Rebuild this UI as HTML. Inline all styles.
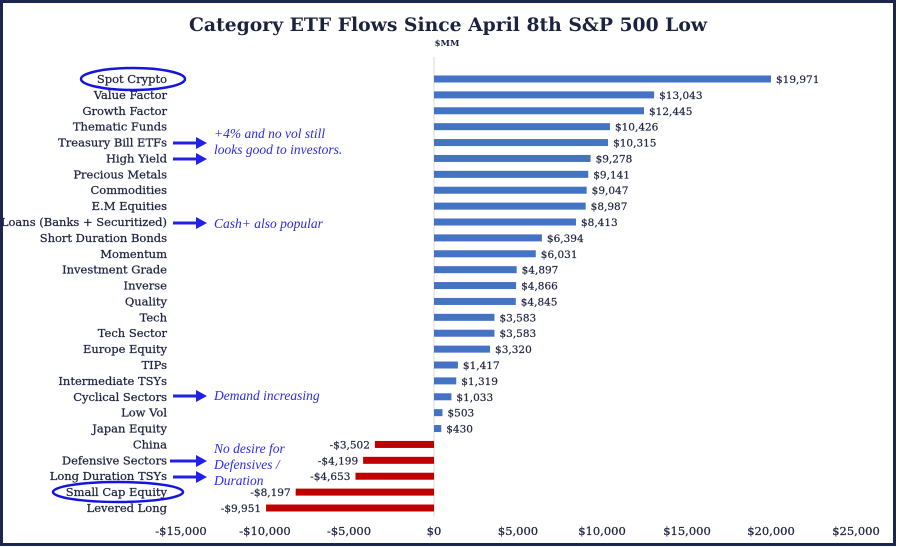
<!DOCTYPE html>
<html><head><meta charset="utf-8"><style>
body{margin:0;background:#fff}
svg{display:block}
text{font-family:"DejaVu Serif","Liberation Serif",serif;fill:#1c2340}
.l{font-size:11.5px;text-anchor:end;stroke:#1c2340;stroke-width:0.25}
.v{font-size:10.5px;stroke:#1c2340;stroke-width:0.2}
.a{font-family:"Liberation Serif",serif;font-style:italic;font-size:13.5px;fill:#2a2af0}
.t{font-size:11.5px;text-anchor:middle;stroke:#1c2340;stroke-width:0.25}
</style></head><body>
<svg width="900" height="548" viewBox="0 0 900 548">
<rect x="1.5" y="1.5" width="893" height="543" fill="#fff" stroke="#1a2550" stroke-width="3"/>
<text x="448" y="31" text-anchor="middle" textLength="518" lengthAdjust="spacingAndGlyphs" style="font-size:19px;font-weight:bold;font-family:'DejaVu Serif',serif">Category ETF Flows Since April 8th S&amp;P 500 Low</text>
<text x="447" y="46" text-anchor="middle" style="font-size:8.5px;font-weight:bold">$MM</text>
<line x1="434" y1="57" x2="434" y2="516" stroke="#d8d8d8" stroke-width="1"/>
<g id="bars"></g>
<g class="t">
<text x="181" y="535">-$15,000</text><text x="265" y="535">-$10,000</text><text x="349" y="535">-$5,000</text><text x="434" y="535">$0</text><text x="518" y="535">$5,000</text><text x="602" y="535">$10,000</text><text x="687" y="535">$15,000</text><text x="771" y="535">$20,000</text><text x="856" y="535">$25,000</text>
</g>
<ellipse cx="133" cy="79" rx="52" ry="11" fill="none" stroke="#1515e0" stroke-width="2.5"/>
<ellipse cx="118" cy="492" rx="65" ry="10" fill="none" stroke="#1515e0" stroke-width="2.5"/>
<g fill="#2020e8" stroke="#2020e8">
<line x1="173" y1="143" x2="198" y2="143" stroke-width="3"/><polygon points="196,137 207,143 196,149" stroke="none"/>
<line x1="173" y1="159" x2="198" y2="159" stroke-width="3"/><polygon points="196,153 207,159 196,165" stroke="none"/>
<line x1="173" y1="223" x2="198" y2="223" stroke-width="3"/><polygon points="196,217 207,223 196,229" stroke="none"/>
<line x1="173" y1="396" x2="198" y2="396" stroke-width="3"/><polygon points="196,390 207,396 196,402" stroke="none"/>
<line x1="170" y1="461" x2="198" y2="461" stroke-width="3"/><polygon points="196,455 207,461 196,467" stroke="none"/>
<line x1="173" y1="477" x2="198" y2="477" stroke-width="3"/><polygon points="196,471 207,477 196,483" stroke="none"/>
</g>
<text class="a" x="214" y="138">+4% and no vol still</text>
<text class="a" x="214" y="154">looks good to investors.</text>
<text class="a" x="214" y="228">Cash+ also popular</text>
<text class="a" x="214" y="400">Demand increasing</text>
<text class="a" x="214" y="453">No desire for</text>
<text class="a" x="214" y="469">Defensives /</text>
<text class="a" x="214" y="485">Duration</text>
</svg>
<script>
var d=[["Spot Crypto",19971],["Value Factor",13043],["Growth Factor",12445],["Thematic Funds",10426],["Treasury Bill ETFs",10315],["High Yield",9278],["Precious Metals",9141],["Commodities",9047],["E.M Equities",8987],["Loans (Banks + Securitized)",8413],["Short Duration Bonds",6394],["Momentum",6031],["Investment Grade",4897],["Inverse",4866],["Quality",4845],["Tech",3583],["Tech Sector",3583],["Europe Equity",3320],["TIPs",1417],["Intermediate TSYs",1319],["Cyclical Sectors",1033],["Low Vol",503],["Japan Equity",430],["China",-3502],["Defensive Sectors",-4199],["Long Duration TSYs",-4653],["Small Cap Equity",-8197],["Levered Long",-9951]];
var g=document.getElementById("bars"),s="",k=0.016875;
function f(v){var a=Math.abs(v).toLocaleString("en-US");return (v<0?"-$":"$")+a;}
for(var i=0;i<d.length;i++){var y=79+i*((508-79)/27),v=d[i][1],w=Math.abs(v)*k;
 var x=v<0?434-w:434,c=v<0?"#c00000":"#4472c4";
 s+='<rect x="'+x+'" y="'+(y-3.5)+'" width="'+w+'" height="7" fill="'+c+'"/>';
 s+='<text class="l" x="167" y="'+(y+4)+'">'+d[i][0]+'</text>';
 if(v>=0)s+='<text class="v" x="'+(x+w+5)+'" y="'+(y+4)+'">'+f(v)+'</text>';
 else s+='<text class="v" text-anchor="end" x="'+(x-5)+'" y="'+(y+4)+'">'+f(v)+'</text>';
}
g.innerHTML=s;
</script>
</body></html>
